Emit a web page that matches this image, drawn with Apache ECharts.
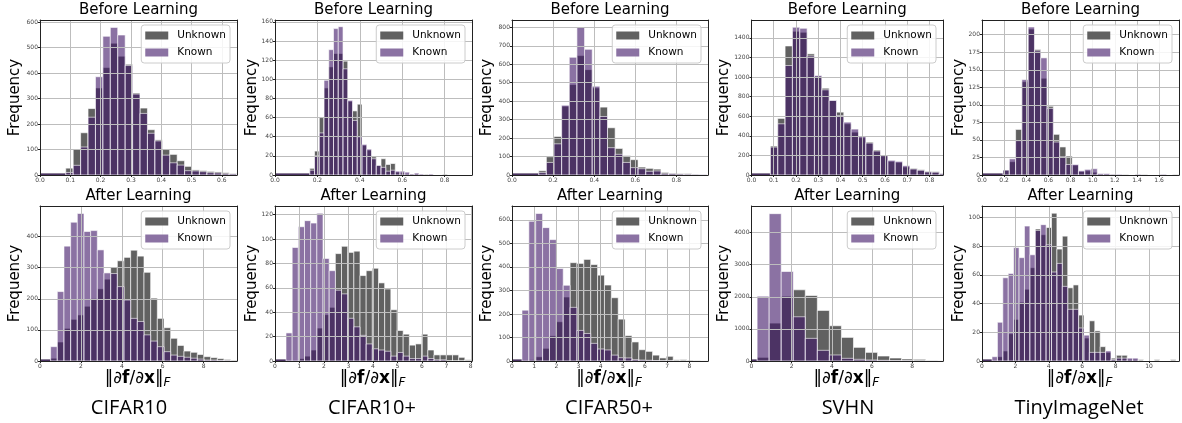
<!DOCTYPE html>
<html><head><meta charset="utf-8">
<script src="https://cdn.jsdelivr.net/npm/echarts@6/dist/echarts.min.js"></script>
<style>html,body{margin:0;padding:0;background:#fff}#c{width:1182px;height:423px}</style>
</head><body><div id="c"></div>
<script>
// ---------------- data ----------------
const datasets = ['CIFAR10', 'CIFAR10+', 'CIFAR50+', 'SVHN', 'TinyImageNet'];
const seriesNames = ['Unknown', 'Known'];
const rowTitles = ['Before Learning', 'After Learning'];
const yLabel = 'Frequency';

// histogram bins: [first edge, bin width]
const binsBefore = [[0.085, 0.0245], [0.164, 0.0224], [0.13, 0.0372], [0.085, 0.033], [0.19, 0.0568]];
const binsAfter = [[0.52, 0.326], [0.45, 0.252], [0.45, 0.31], [0.28, 0.6], [0.6, 0.324]];
// counts in the wide bin from 0 to the first edge: [unknown, known]
const leadBefore = [[3, 2], [1, 1], [2, 1], [5, 5], [1, 1]];
const leadAfter = [[3, 1], [1, 0], [2, 1], [15, 15], [1, 0]];

const unknownBefore = [
  [27,102,166,261,342,422,518,467,435,322,263,178,138,100,81,56,34,20,17,14,12,9,6],
  [7,25,60,91,113,127,127,119,77,67,74,31,26,19,10,17,11,12,3,2,1,1,1,0,1,0,0,0,1,0,0,0,0,0],
  [23,99,209,373,490,647,571,472,368,256,144,105,83,43,36,32,14,9,8,8,5,3],
  [296,578,1318,1468,1458,1237,1006,887,761,642,523,438,381,336,255,204,139,129,82,68,54,37,35,15],
  [7,19,65,133,208,179,138,98,58,40,27,14,5,6,4,1,1,1,0,1,0,0,1,0,0,0,0,1]
];
const knownBefore = [
  [10,38,110,227,386,545,580,550,430,318,242,164,134,78,48,39,17,16,13,9,8,5,4],
  [5,20,44,99,131,153,155,111,78,57,40,32,27,17,10,8,4,5,4,4,3,1,2,1,0,1,0,0,0,0,0,0,0,0],
  [13,68,169,378,638,800,681,481,317,148,112,68,40,34,20,22,7,7,5,4,3,2],
  [285,523,1118,1509,1498,1216,1016,870,761,608,540,469,394,326,245,197,150,139,95,61,48,31,28,12],
  [7,23,49,136,211,177,167,95,47,26,15,15,6,8,9,2,2,1,1,0,0,1,0,0,0,1,0,0]
];
const unknownAfter = [
  [9,61,105,134,148,176,200,232,263,301,322,333,356,337,285,202,137,107,73,50,32,28,21,14,11,8,5,3],
  [0,0,2,4,9,27,38,44,88,94,89,90,70,74,76,64,59,42,25,22,13,14,22,9,5,5,5,5,3,1],
  [2,5,18,54,107,167,272,418,415,432,410,365,323,269,178,108,81,48,41,25,13,20,5,6,4,3,1],
  [114,1181,2020,2218,2041,1575,1098,736,425,269,155,93,62,52,21,10],
  [0,3,7,19,29,41,50,65,92,88,93,103,78,87,51,53,32,16,28,21,10,6,2,4,4,1,1,1,0,0,1,0,0,1,0]
];
const knownAfter = [
  [46,223,369,446,474,416,419,357,283,281,239,196,137,127,84,64,46,30,19,15,12,9,6,3,3,2,1,0],
  [23,93,110,115,113,121,84,74,58,55,35,28,21,14,10,9,8,4,7,4,2,2,4,2,1,1,0,0,0,0],
  [216,594,627,567,516,393,322,228,130,117,75,51,47,25,14,13,6,4,3,2,1,1,0,0,0,0,0],
  [2020,4590,2788,1378,705,332,187,83,52,31,21,10,10,3,2,1],
  [3,27,58,61,79,72,94,74,91,95,81,62,68,52,36,36,23,18,6,6,6,7,1,2,2,2,2,0,0,0,0,0,0,0,0]
];

// axis ranges and tick steps
const xMaxBefore = [0.65, 0.929, 0.954, 0.861, 1.78];
const xStepBefore = [0.1, 0.2, 0.2, 0.1, 0.2];
const xMaxAfter = [9.63, 8.05, 8.84, 9.54, 11.8];
const xStepAfter = [2, 1, 1, 2, 2];
const yMaxBefore = [609, 162, 840, 1583, 221];
const yStepBefore = [100, 20, 100, 200, 25];
const yMaxAfter = [498, 127, 659, 4829, 108];
const yStepAfter = [100, 20, 100, 1000, 20];

// ---------------- layout / style ----------------
const W = 1182;
const colLeft = [40, 275, 512, 751.5, 982];
const colWidth = [197, 197, 196, 191.5, 197];
const rowTop = [20, 206];
const plotH = 155;
const freqX = [15.5, 252.5, 487.5, 724.5, 959.5];
const nameX = [129, 372, 609, 848, 1079];
const titleY = [10.5, 196.5];

const unkColor = '#000000', unkAlpha = 0.62;
const knColor = '#3d1466', knAlpha = 0.6;
const legendUnk = '#616161', legendKn = '#8b72a3';
const axisColor = '#222';
const tickFont = { fontSize: 6, color: '#444', fontFamily: 'DejaVu Sans', margin: 2 };

function makeRender(color, alpha) {
  return function (params, api) {
    const a = api.coord([api.value(0), api.value(2)]);
    const b = api.coord([api.value(1), 0]);
    const lead = api.value(3) === 1;
    let y = a[1], h = b[1] - a[1];
    if (lead && h < 1.5) { y = b[1] - 1.5; h = 1.5; }
    return {
      type: 'rect',
      shape: { x: a[0], y: y, width: b[0] - a[0], height: h },
      style: { fill: color, stroke: lead ? null : '#ffffff', lineWidth: 1, opacity: alpha }
    };
  };
}

function binData(bins, lead, counts) {
  const out = [[0, bins[0], lead, 1]];
  counts.forEach((c, i) => {
    out.push([bins[0] + i * bins[1], bins[0] + (i + 1) * bins[1], c, 0]);
  });
  return out;
}

const grid = [], xAxis = [], yAxis = [], series = [], legend = [], graphic = [];

for (let r = 0; r < 2; r++) {
  for (let c = 0; c < 5; c++) {
    const gi = grid.length;
    const bins = r === 0 ? binsBefore[c] : binsAfter[c];
    const lead = r === 0 ? leadBefore[c] : leadAfter[c];
    const unk = r === 0 ? unknownBefore[c] : unknownAfter[c];
    const kn = r === 0 ? knownBefore[c] : knownAfter[c];
    const xMax = r === 0 ? xMaxBefore[c] : xMaxAfter[c];
    const xStep = r === 0 ? xStepBefore[c] : xStepAfter[c];
    const yMax = r === 0 ? yMaxBefore[c] : yMaxAfter[c];
    const yStep = r === 0 ? yStepBefore[c] : yStepAfter[c];

    grid.push({ left: colLeft[c], top: rowTop[r], width: colWidth[c], height: plotH, containLabel: false });

    const xa = 2 * gi, ya = 2 * gi;
    xAxis.push({
      gridIndex: gi, type: 'value', position: 'bottom', min: 0, max: xMax, interval: xStep, z: 3,
      axisLine: { show: true, onZero: false, lineStyle: { color: axisColor, width: 1 } },
      axisTick: { show: true, length: 2, lineStyle: { color: axisColor } },
      axisLabel: Object.assign({}, tickFont, {
        showMaxLabel: false,
        formatter: v => r === 0 ? v.toFixed(1) : String(Math.round(v))
      }),
      splitLine: { show: true, lineStyle: { color: '#bdbdbd', width: 1 } }
    });
    xAxis.push({
      gridIndex: gi, type: 'value', position: 'top', min: 0, max: xMax, z: 3,
      axisLine: { show: true, onZero: false, lineStyle: { color: axisColor, width: 1 } },
      axisTick: { show: false }, axisLabel: { show: false }, splitLine: { show: false }
    });
    yAxis.push({
      gridIndex: gi, type: 'value', position: 'left', min: 0, max: yMax, interval: yStep, z: 3,
      axisLine: { show: true, onZero: false, lineStyle: { color: axisColor, width: 1 } },
      axisTick: { show: true, length: 2, lineStyle: { color: axisColor } },
      axisLabel: Object.assign({}, tickFont, { showMaxLabel: false, formatter: v => String(Math.round(v)) }),
      splitLine: { show: true, lineStyle: { color: '#bdbdbd', width: 1 } }
    });
    yAxis.push({
      gridIndex: gi, type: 'value', position: 'right', min: 0, max: yMax, z: 3,
      axisLine: { show: true, onZero: false, lineStyle: { color: axisColor, width: 1 } },
      axisTick: { show: false }, axisLabel: { show: false }, splitLine: { show: false }
    });

    series.push({
      type: 'custom', name: seriesNames[0], xAxisIndex: xa, yAxisIndex: ya, clip: true, z: 2,
      itemStyle: { color: legendUnk },
      encode: { x: [0, 1], y: 2 }, data: binData(bins, lead[0], unk), renderItem: makeRender(unkColor, unkAlpha)
    });
    series.push({
      type: 'custom', name: seriesNames[1], xAxisIndex: xa, yAxisIndex: ya, clip: true, z: 2,
      itemStyle: { color: legendKn },
      encode: { x: [0, 1], y: 2 }, data: binData(bins, lead[1], kn), renderItem: makeRender(knColor, knAlpha)
    });

    legend.push({
      orient: 'vertical', right: W - (colLeft[c] + colWidth[c]) + 7, top: rowTop[r] + 5,
      selectedMode: false, icon: 'rect', itemWidth: 23, itemHeight: 8, itemGap: 4,
      data: [
        { name: seriesNames[0], itemStyle: { color: legendUnk, borderWidth: 0 } },
        { name: seriesNames[1], itemStyle: { color: legendKn, borderWidth: 0 } }
      ],
      textStyle: { fontSize: 10.5, fontFamily: 'DejaVu Sans', color: '#000', padding: [0, 0, 0, 4], lineHeight: 13 },
      backgroundColor: 'rgba(255,255,255,0.85)', borderColor: '#cccccc', borderWidth: 1, borderRadius: 3,
      padding: [4, 4, 4, 4], z: 6
    });

    const cx = colLeft[c] + colWidth[c] / 2;
    graphic.push({
      type: 'text', x: cx, y: titleY[r], z: 10,
      style: { text: rowTitles[r], fontSize: 15, fontFamily: 'DejaVu Sans', fill: '#000', align: 'center', verticalAlign: 'middle' }
    });
    graphic.push({
      type: 'text', x: freqX[c], y: rowTop[r] + plotH / 2, rotation: Math.PI / 2, z: 10,
      style: { text: yLabel, fontSize: 15, fontFamily: 'DejaVu Sans', fill: '#000', align: 'center', verticalAlign: 'middle' }
    });
    if (r === 1) {
      graphic.push({
        type: 'text', x: cx - 1, y: 379, z: 10,
        style: {
          text: '{n|‖∂}{b|f}{n|/∂}{b|x}{n|‖}{s|F}', align: 'center', verticalAlign: 'middle', fill: '#000',
          rich: {
            n: { fontSize: 17, fontFamily: 'DejaVu Sans', lineHeight: 20, fill: '#000' },
            b: { fontSize: 17, fontFamily: 'DejaVu Sans', fontWeight: 'bold', lineHeight: 20, fill: '#000' },
            s: { fontSize: 12, fontFamily: 'DejaVu Sans', fontStyle: 'italic', lineHeight: 12, verticalAlign: 'bottom', fill: '#000' }
          }
        }
      });
      graphic.push({
        type: 'text', x: nameX[c], y: 408, z: 10,
        style: { text: datasets[c], fontSize: 20, fontFamily: 'Open Sans', fill: '#000', align: 'center', verticalAlign: 'middle' }
      });
    }
  }
}

const chart = echarts.init(document.getElementById('c'), null, { renderer: 'canvas' });
chart.setOption({
  animation: false,
  backgroundColor: '#fff',
  grid, xAxis, yAxis, series, legend, graphic
});
</script>
</body></html>
